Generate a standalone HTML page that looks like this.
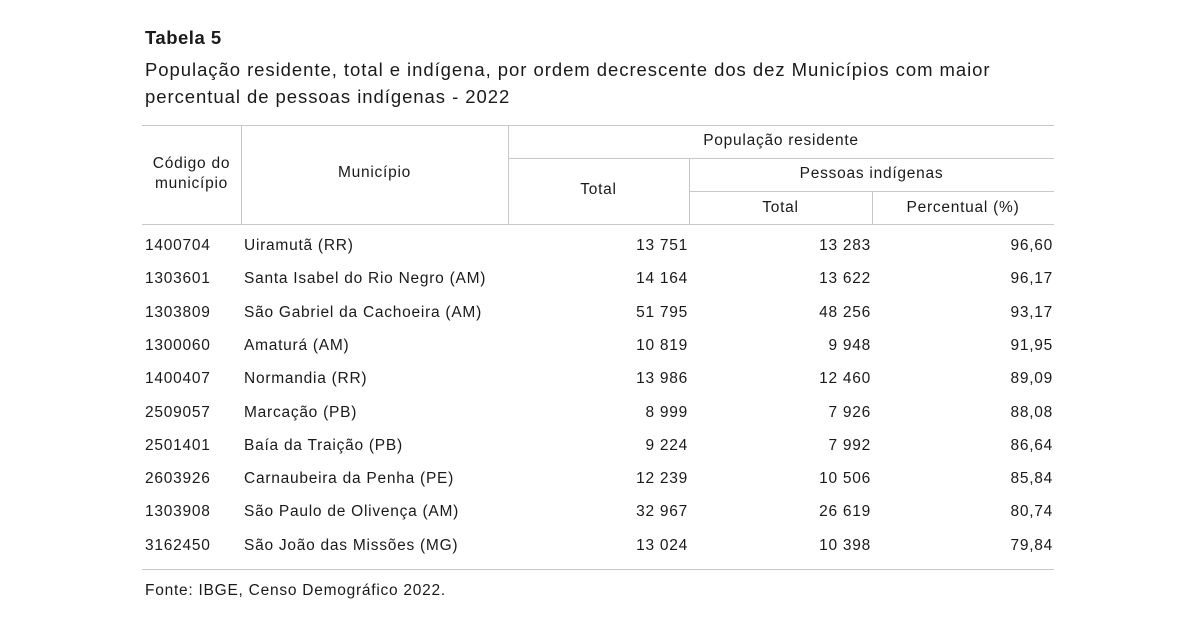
<!DOCTYPE html>
<html><head><meta charset="utf-8"><style>
body{margin:0;width:1200px;height:628px;background:#fff;font-family:"Liberation Sans",sans-serif;color:#1a1a1a;position:relative;overflow:hidden}
.t{position:absolute;white-space:nowrap;font-size:15.5px;line-height:18px;letter-spacing:0.75px}
.h{position:absolute;background:#c8c8c8;height:1px}
.v{position:absolute;background:#c8c8c8;width:1px}
.r{text-align:right}
.c{text-align:center}
</style></head><body>
<div class="t" style="left:145px;top:27px;font-size:18.5px;font-weight:bold;line-height:22px;letter-spacing:0.5px">Tabela 5</div>
<div class="t" style="left:145px;top:56px;font-size:18.5px;line-height:27px;letter-spacing:0.95px">População residente, total e indígena, por ordem decrescente dos dez Municípios com maior<br>percentual de pessoas indígenas - 2022</div>

<div class="h" style="left:142px;width:912px;top:125px"></div>
<div class="h" style="left:508px;width:546px;top:158px"></div>
<div class="h" style="left:689px;width:365px;top:191px"></div>
<div class="h" style="left:142px;width:912px;top:224px"></div>
<div class="h" style="left:142px;width:912px;top:569px"></div>
<div class="v" style="left:241px;top:125px;height:99px"></div>
<div class="v" style="left:508px;top:125px;height:99px"></div>
<div class="v" style="left:689px;top:158px;height:66px"></div>
<div class="v" style="left:872px;top:191px;height:33px"></div>

<div class="t c" style="left:142px;width:99px;top:154px;line-height:20px">Código do<br>município</div>
<div class="t c" style="left:241px;width:267px;top:164px">Município</div>
<div class="t c" style="left:508px;width:546px;top:132px">População residente</div>
<div class="t c" style="left:508px;width:181px;top:181px">Total</div>
<div class="t c" style="left:689px;width:365px;top:165px">Pessoas indígenas</div>
<div class="t c" style="left:689px;width:183px;top:199px">Total</div>
<div class="t c" style="left:872px;width:182px;top:199px">Percentual (%)</div>

<div id="rows"></div>
<div class="t" style="left:145px;top:582px">Fonte: IBGE, Censo Demográfico 2022.</div>
<script>
var d=[["1400704","Uiramutã (RR)","13 751","13 283","96,60"],
["1303601","Santa Isabel do Rio Negro (AM)","14 164","13 622","96,17"],
["1303809","São Gabriel da Cachoeira (AM)","51 795","48 256","93,17"],
["1300060","Amaturá (AM)","10 819","9 948","91,95"],
["1400407","Normandia (RR)","13 986","12 460","89,09"],
["2509057","Marcação (PB)","8 999","7 926","88,08"],
["2501401","Baía da Traição (PB)","9 224","7 992","86,64"],
["2603926","Carnaubeira da Penha (PE)","12 239","10 506","85,84"],
["1303908","São Paulo de Olivença (AM)","32 967","26 619","80,74"],
["3162450","São João das Missões (MG)","13 024","10 398","79,84"]];
var h="";d.forEach(function(r,i){var y=237+i*33.3;
h+='<div class="t" style="left:145px;top:'+y+'px">'+r[0]+'</div>';
h+='<div class="t" style="left:244px;top:'+y+'px">'+r[1]+'</div>';
h+='<div class="t r" style="right:512px;top:'+y+'px">'+r[2]+'</div>';
h+='<div class="t r" style="right:329px;top:'+y+'px">'+r[3]+'</div>';
h+='<div class="t r" style="right:147px;top:'+y+'px">'+r[4]+'</div>';});
document.getElementById("rows").innerHTML=h;
</script>
</body></html>
